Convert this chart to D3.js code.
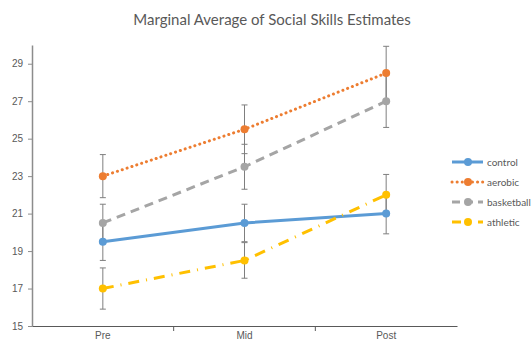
<!DOCTYPE html>
<html>
<head>
<meta charset="utf-8">
<script src="https://cdn.jsdelivr.net/npm/d3@7"></script>
<style>
  body { margin: 0; background: #fff; }
  svg { display: block; font-family: Lato, "Open Sans", sans-serif; }
</style>
</head>
<body>
<div id="chart"></div>
<script>
var phases = ["Pre", "Mid", "Post"];
var yTicks = [15, 17, 19, 21, 23, 25, 27, 29];

var control = [19.5, 20.5, 21.0];
var aerobic = [23.0, 25.5, 28.5];
var basketball = [20.5, 23.5, 27.0];
var athletic = [17.0, 18.5, 22.0];

var controlErr = [1.0, 1.0, 1.08];
var aerobicErr = [1.15, 1.3, 1.43];
var basketballErr = [1.0, 1.2, 1.4];
var athleticErr = [1.1, 0.95, 1.09];

var seriesNames = ["control", "aerobic", "basketball", "athletic"];

var series = [
  { name: "control", values: control, err: controlErr, color: "#5B9BD5", dash: null },
  { name: "aerobic", values: aerobic, err: aerobicErr, color: "#ED7D31", dash: "0.1,5" },
  { name: "basketball", values: basketball, err: basketballErr, color: "#A5A5A5", dash: "9,6" },
  { name: "athletic", values: athletic, err: athleticErr, color: "#FFC000", dash: "11,7,1,7" }
];

var width = 531, height = 343;
var margin = { left: 32, right: 74, top: 45, bottom: 17 };

var svg = d3.select("#chart").append("svg")
  .attr("width", width)
  .attr("height", height);

var x = d3.scaleBand()
  .domain(phases)
  .range([margin.left, width - margin.right]);

var y = d3.scaleLinear()
  .domain([15, 30])
  .range([height - margin.bottom, margin.top]);

// title
svg.append("text")
  .attr("x", 272)
  .attr("y", 25)
  .attr("text-anchor", "middle")
  .style("font-size", "15px")
  .style("fill", "#595959")
  .text("Marginal Average of Social Skills Estimates");

// y axis
var yAxis = svg.append("g")
  .attr("transform", "translate(" + margin.left + ",0)")
  .call(d3.axisLeft(y).tickValues(yTicks).tickSize(4).tickPadding(5).tickSizeOuter(0));
yAxis.select(".domain").attr("stroke", "#8c8c8c").attr("stroke-width", 1.5);
yAxis.selectAll(".tick line").attr("stroke", "#8c8c8c");
yAxis.selectAll(".tick text").style("font-size", "10px").style("fill", "#595959");

// x axis
var xAxis = svg.append("g")
  .attr("transform", "translate(0," + y(15) + ")")
  .call(d3.axisBottom(x).tickSize(0).tickPadding(6));
xAxis.select(".domain").attr("stroke", "#595959").attr("stroke-width", 1.2);
xAxis.selectAll(".tick text").style("font-size", "10px").style("fill", "#595959");
xAxis.selectAll(".sep")
  .data(phases.slice(1))
  .enter().append("line")
  .attr("class", "sep")
  .attr("x1", function(d){ return x(d); })
  .attr("x2", function(d){ return x(d); })
  .attr("y1", 0)
  .attr("y2", 5)
  .attr("stroke", "#595959");

var cx = function(i){ return x(phases[i]) + x.bandwidth() / 2; };

// lines
var line = d3.line()
  .x(function(d, i){ return cx(i); })
  .y(function(d){ return y(d); });

series.forEach(function(s){
  svg.append("path")
    .datum(s.values)
    .attr("d", line)
    .attr("fill", "none")
    .attr("stroke", s.color)
    .attr("stroke-width", 3)
    .attr("stroke-linecap", s.name == "aerobic" ? "round" : "butt")
    .attr("stroke-dasharray", s.dash);
});

// error bars
series.forEach(function(s){
  var g = svg.append("g");
  s.values.forEach(function(v, i){
    var top = y(v + s.err[i]), bot = y(v - s.err[i]);
    g.append("line").attr("x1", cx(i)).attr("x2", cx(i)).attr("y1", top).attr("y2", bot)
      .attr("stroke", "#7f7f7f").attr("stroke-width", 1);
    [top, bot].forEach(function(yy){
      g.append("line").attr("x1", cx(i) - 3).attr("x2", cx(i) + 3).attr("y1", yy).attr("y2", yy)
        .attr("stroke", "#7f7f7f").attr("stroke-width", 1);
    });
  });
});

// markers
series.forEach(function(s){
  svg.selectAll(".m-" + s.name)
    .data(s.values)
    .enter().append("circle")
    .attr("cx", function(d, i){ return cx(i); })
    .attr("cy", function(d){ return y(d); })
    .attr("r", 4)
    .attr("fill", s.color);
});

// legend
var legend = svg.append("g").attr("transform", "translate(452,162)");
series.forEach(function(s, i){
  var row = legend.append("g").attr("transform", "translate(0," + (i * 20) + ")");
  row.append("line")
    .attr("x1", 0).attr("x2", 31).attr("y1", 0).attr("y2", 0)
    .attr("stroke", s.color)
    .attr("stroke-width", 3)
    .attr("stroke-linecap", s.name == "aerobic" ? "round" : "butt")
    .attr("stroke-dasharray", s.name == "athletic" ? "9,8,1,8" : s.name == "basketball" ? "8,5" : s.dash);
  row.append("circle").attr("cx", 16).attr("cy", 0).attr("r", 4).attr("fill", s.color);
  row.append("text")
    .attr("x", 35)
    .attr("y", 0)
    .attr("dy", "0.35em")
    .style("font-size", "10px")
    .style("fill", "#595959")
    .text(seriesNames[i]);
});
</script>
</body>
</html>
